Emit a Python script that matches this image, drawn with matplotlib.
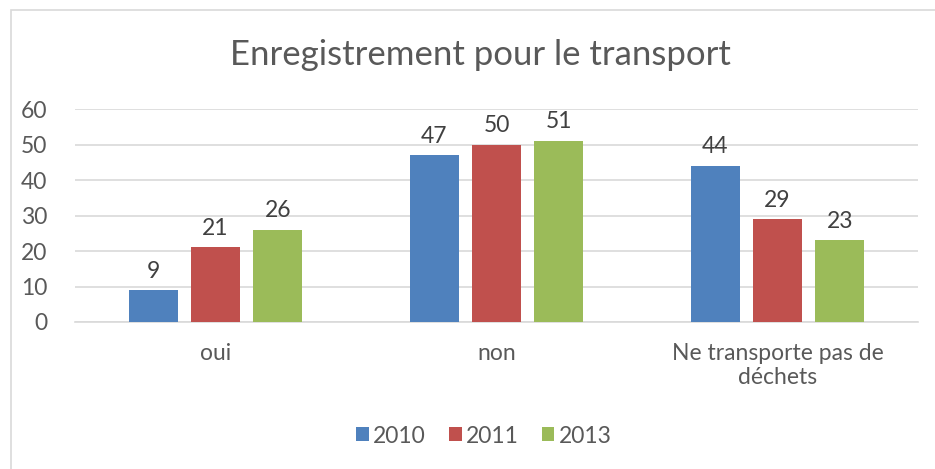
import numpy as np
import matplotlib.pyplot as plt
from matplotlib.patches import Rectangle

categories = ["oui", "non", "Ne transporte pas de\ndéchets"]
years = ["2010", "2011", "2013"]
v2010 = [9, 47, 44]
v2011 = [21, 50, 29]
v2013 = [26, 51, 23]
colors = ["#4f81bd", "#c0504d", "#9bbb59"]

plt.rcParams['font.family'] = ['Lato', 'DejaVu Sans']
txt = "#595959"
fs = 16.5

fig = plt.figure(figsize=(9.35, 4.69), dpi=100)
# outer chart border
fig.patches.append(Rectangle((11 / 935, -0.05), 1.0, 1 - 10 / 469 + 0.05, transform=fig.transFigure,
                             fill=False, edgecolor="#d9d9d9", linewidth=1.2))
ax = fig.add_axes([75 / 935, 1 - 322 / 469, 843 / 935, 213 / 469])

x = np.arange(len(categories))
w = 0.174
step = 0.222
for i, (vals, lab) in enumerate(zip([v2010, v2011, v2013], years)):
    bars = ax.bar(x + (i - 1) * step, vals, w, color=colors[i], label=lab, zorder=3)
    for b, v in zip(bars, vals):
        ax.text(b.get_x() + b.get_width() / 2, v + 2.4, str(v), ha="center", va="bottom",
                fontsize=fs, color="#404040")

ax.set_xlim(-0.5, 2.5)
ax.set_ylim(0, 60)
ax.set_yticks(range(0, 61, 10))
ax.grid(axis="y", color="#d9d9d9", linewidth=1.2, zorder=0)
for s in ["top", "right", "left"]:
    ax.spines[s].set_visible(False)
ax.spines["bottom"].set_color("#d9d9d9")
ax.spines["bottom"].set_linewidth(1.2)
ax.tick_params(axis="both", length=0, labelsize=fs, labelcolor=txt)
ax.tick_params(axis="y", pad=20)
ax.tick_params(axis="x", pad=15)
ax.set_xticks(x)
ax.set_xticklabels(categories, linespacing=1.2)

fig.text(480 / 935, 1 - 55 / 469, "Enregistrement pour le transport", ha="center", va="center",
         fontsize=25, color=txt)
fig.legend(loc="center", bbox_to_anchor=(484 / 935, 1 - 436 / 469), ncol=3, frameon=False,
           fontsize=fs, labelcolor=txt, handlelength=0.55, handleheight=0.55,
           handletextpad=0.2, columnspacing=1.0)

fig.savefig("out.png", dpi=100)
